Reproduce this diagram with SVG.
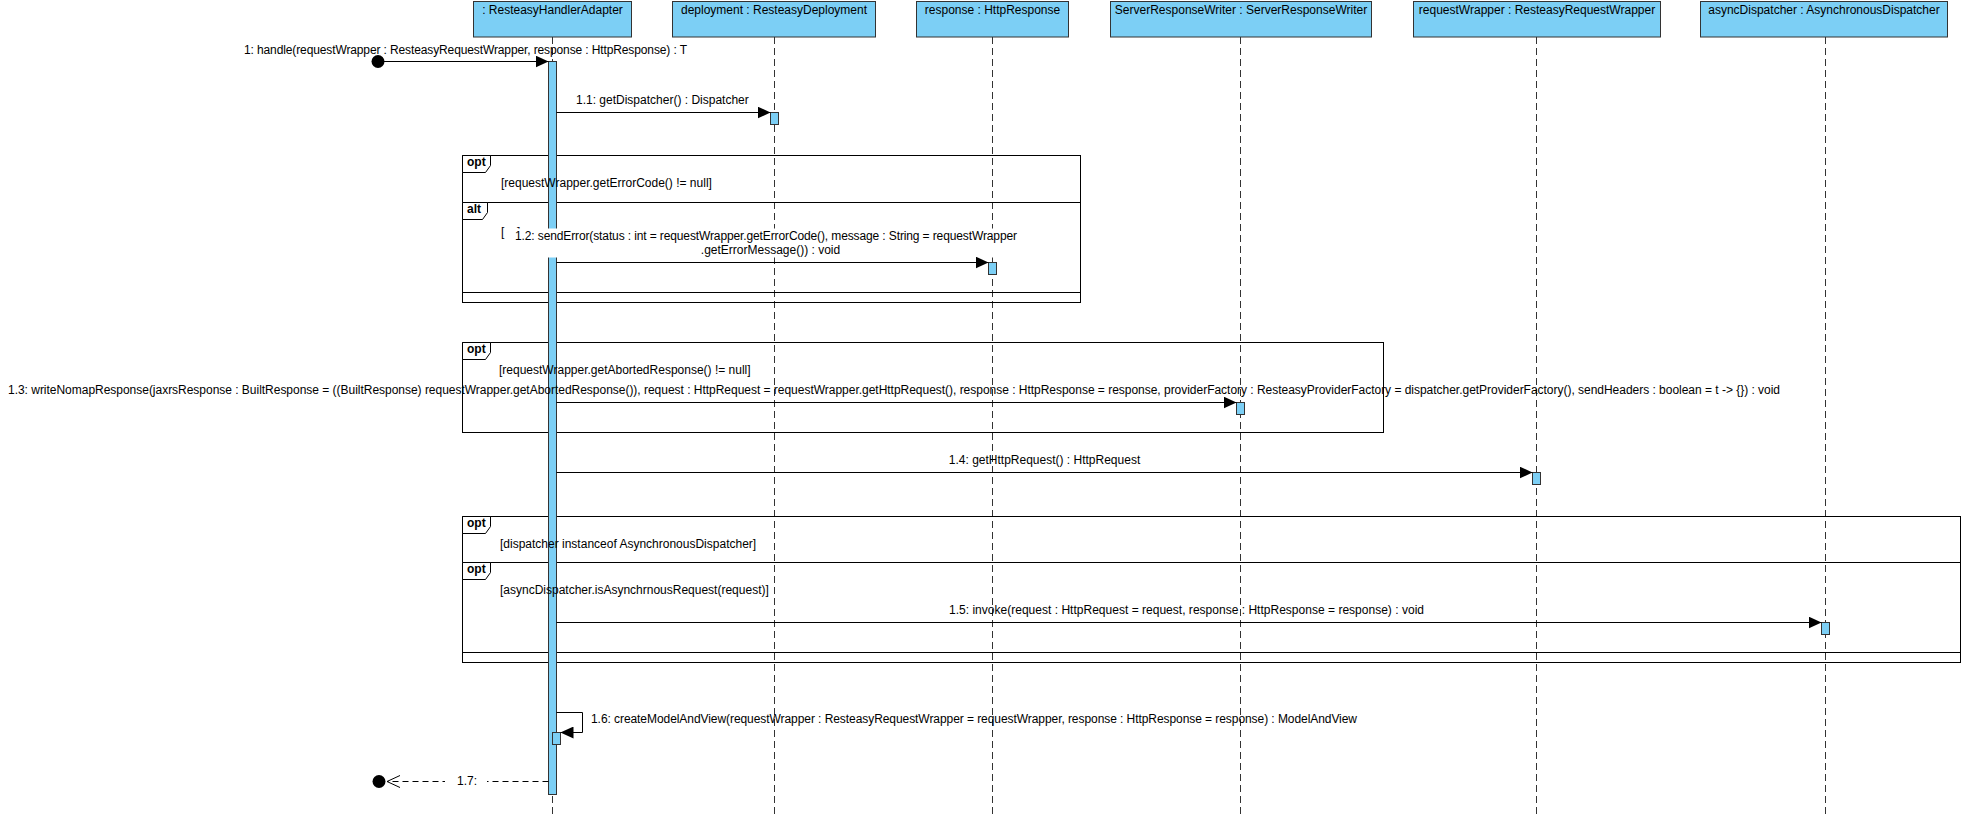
<svg xmlns="http://www.w3.org/2000/svg" width="1964" height="818" viewBox="0 0 1964 818">
<style>
.box{fill:#7ccff5;stroke:#333;stroke-width:1}
.life{stroke:#333;stroke-width:1;stroke-dasharray:7 4;fill:none}
.act{fill:#7ccff5;stroke:#333;stroke-width:1}
.msg{stroke:#000;stroke-width:1;fill:none}
.ret{stroke:#000;stroke-width:1;stroke-dasharray:6 4;fill:none}
.frame{fill:none;stroke:#000;stroke-width:1}
.tab{fill:#fff;stroke:#000;stroke-width:1}
.t{font-family:"Liberation Sans",Arial,sans-serif;font-size:12px;fill:#000}
.tb{font-family:"Liberation Sans",Arial,sans-serif;font-size:12px;font-weight:bold;fill:#000}
.bg{fill:#fff;stroke:none}
</style>
<defs>
<marker id="filled" viewBox="0 0 13 12" refX="13" refY="6" markerWidth="13" markerHeight="12" markerUnits="userSpaceOnUse" orient="auto">
<path d="M0,0 L13,6 L0,12 z" fill="#000"/>
</marker>
<marker id="open" viewBox="-1 -1 15 14" refX="13" refY="6" markerWidth="15" markerHeight="14" markerUnits="userSpaceOnUse" orient="auto">
<path d="M0,0 L13,6 L0,12" fill="none" stroke="#000" stroke-width="1"/>
</marker>
</defs>
<rect width="1964" height="818" fill="#fff"/>

<g id="lifelines">
<line class="life" x1="552.5" y1="37" x2="552.5" y2="818"/>
<line class="life" x1="774.5" y1="37" x2="774.5" y2="818"/>
<line class="life" x1="992.5" y1="37" x2="992.5" y2="818"/>
<line class="life" x1="1240.5" y1="37" x2="1240.5" y2="818"/>
<line class="life" x1="1536.5" y1="37" x2="1536.5" y2="818"/>
<line class="life" x1="1825.5" y1="37" x2="1825.5" y2="818"/>
</g>

<g id="handlerAdapter">
<rect class="box" x="473.5" y="1.5" width="158" height="35.5"/>
<text class="t" x="552.5" y="13.5" text-anchor="middle">: ResteasyHandlerAdapter</text>
</g>
<g id="deployment">
<rect class="box" x="672.5" y="1.5" width="203" height="35.5"/>
<text class="t" x="774" y="13.5" text-anchor="middle">deployment : ResteasyDeployment</text>
</g>
<g id="response">
<rect class="box" x="916.5" y="1.5" width="152" height="35.5"/>
<text class="t" x="992.5" y="13.5" text-anchor="middle">response : HttpResponse</text>
</g>
<g id="serverResponseWriter">
<rect class="box" x="1110.5" y="1.5" width="261" height="35.5"/>
<text class="t" x="1241" y="13.5" text-anchor="middle">ServerResponseWriter : ServerResponseWriter</text>
</g>
<g id="requestWrapper">
<rect class="box" x="1413.5" y="1.5" width="247" height="35.5"/>
<text class="t" x="1537" y="13.5" text-anchor="middle">requestWrapper : ResteasyRequestWrapper</text>
</g>
<g id="asyncDispatcher">
<rect class="box" x="1700.5" y="1.5" width="247" height="35.5"/>
<text class="t" x="1824" y="13.5" text-anchor="middle">asyncDispatcher : AsynchronousDispatcher</text>
</g>

<g id="frames">
<rect class="frame" x="462.5" y="155.5" width="618" height="147"/>
<line class="frame" x1="462.5" y1="202.5" x2="1080.5" y2="202.5"/>
<line class="frame" x1="462.5" y1="292.5" x2="1080.5" y2="292.5"/>
<rect class="frame" x="462.5" y="342.5" width="921" height="90"/>
<rect class="frame" x="462.5" y="516.5" width="1498" height="146"/>
<line class="frame" x1="462.5" y1="562.5" x2="1960.5" y2="562.5"/>
<line class="frame" x1="462.5" y1="652.5" x2="1960.5" y2="652.5"/>
</g>

<g id="activations">
<rect class="act" x="548.5" y="61.5" width="8" height="733"/>
<rect class="act" x="770.5" y="112.5" width="8" height="12"/>
<rect class="act" x="988.5" y="262.5" width="8" height="12"/>
<rect class="act" x="1236.5" y="402.5" width="8" height="12"/>
<rect class="act" x="1532.5" y="472.5" width="8" height="12"/>
<rect class="act" x="1821.5" y="622.5" width="8" height="12"/>
<rect class="act" x="552.5" y="732.5" width="8" height="12"/>
</g>

<g id="frameLabels">
<path class="tab" d="M462.5,155.5 h28 v10 l-5,7 h-23 z"/>
<text class="tb" x="467" y="166">opt</text>
<text class="t" x="501" y="187">[requestWrapper.getErrorCode() != null]</text>
<path class="tab" d="M462.5,202.5 h25 v10 l-5,7 h-20 z"/>
<text class="tb" x="467" y="213">alt</text>
<text class="t" x="501" y="236">[<tspan x="517">]</tspan></text>
<path class="tab" d="M462.5,342.5 h28 v10 l-5,7 h-23 z"/>
<text class="tb" x="467" y="353">opt</text>
<text class="t" x="499" y="374">[requestWrapper.getAbortedResponse() != null]</text>
<path class="tab" d="M462.5,516.5 h28 v10 l-5,7 h-23 z"/>
<text class="tb" x="467" y="527">opt</text>
<text class="t" x="500" y="548">[dispatcher instanceof AsynchronousDispatcher]</text>
<path class="tab" d="M462.5,562.5 h28 v10 l-5,7 h-23 z"/>
<text class="tb" x="467" y="573">opt</text>
<text class="t" x="500" y="594">[asyncDispatcher.isAsynchrnousRequest(request)]</text>
</g>

<g id="connectors">
<circle cx="378" cy="61.5" r="6.5" fill="#000"/>
<line class="msg" x1="378" y1="61.5" x2="548.5" y2="61.5" marker-end="url(#filled)"/>
<text class="t" x="244" y="54" textLength="443" lengthAdjust="spacing">1: handle(requestWrapper : ResteasyRequestWrapper, response : HttpResponse) : T</text>

<line class="msg" x1="556.5" y1="112.5" x2="770.5" y2="112.5" marker-end="url(#filled)"/>
<text class="t" x="576" y="104">1.1: getDispatcher() : Dispatcher</text>

<rect class="bg" x="512" y="228.5" width="510" height="29"/>
<line class="msg" x1="556.5" y1="262.5" x2="988.5" y2="262.5" marker-end="url(#filled)"/>
<text class="t" x="515" y="240" textLength="502" lengthAdjust="spacing">1.2: sendError(status : int = requestWrapper.getErrorCode(), message : String = requestWrapper</text>
<text class="t" x="770.5" y="254" text-anchor="middle">.getErrorMessage()) : void</text>

<line class="msg" x1="556.5" y1="402.5" x2="1236.5" y2="402.5" marker-end="url(#filled)"/>
<text class="t" x="8" y="394" textLength="1772" lengthAdjust="spacing">1.3: writeNomapResponse(jaxrsResponse : BuiltResponse = ((BuiltResponse) requestWrapper.getAbortedResponse()), request : HttpRequest = requestWrapper.getHttpRequest(), response : HttpResponse = response, providerFactory : ResteasyProviderFactory = dispatcher.getProviderFactory(), sendHeaders : boolean = t -&gt; {}) : void</text>

<line class="msg" x1="556.5" y1="472.5" x2="1532.5" y2="472.5" marker-end="url(#filled)"/>
<text class="t" x="1044.5" y="464" text-anchor="middle">1.4: getHttpRequest() : HttpRequest</text>

<line class="msg" x1="556.5" y1="622.5" x2="1821.5" y2="622.5" marker-end="url(#filled)"/>
<text class="t" x="949" y="614" textLength="475" lengthAdjust="spacing">1.5: invoke(request : HttpRequest = request, response : HttpResponse = response) : void</text>

<polyline class="msg" points="556.5,712.5 582.5,712.5 582.5,732.5 560.5,732.5" marker-end="url(#filled)"/>
<text class="t" x="591" y="723" textLength="766" lengthAdjust="spacing">1.6: createModelAndView(requestWrapper : ResteasyRequestWrapper = requestWrapper, response : HttpResponse = response) : ModelAndView</text>

<line class="ret" x1="548.5" y1="781.5" x2="387" y2="781.5" marker-end="url(#open)"/>
<circle cx="379" cy="781.5" r="6.5" fill="#000"/>
<rect class="bg" x="445" y="772" width="42" height="18"/>
<text class="t" x="457" y="785">1.7:</text>
</g>
</svg>
